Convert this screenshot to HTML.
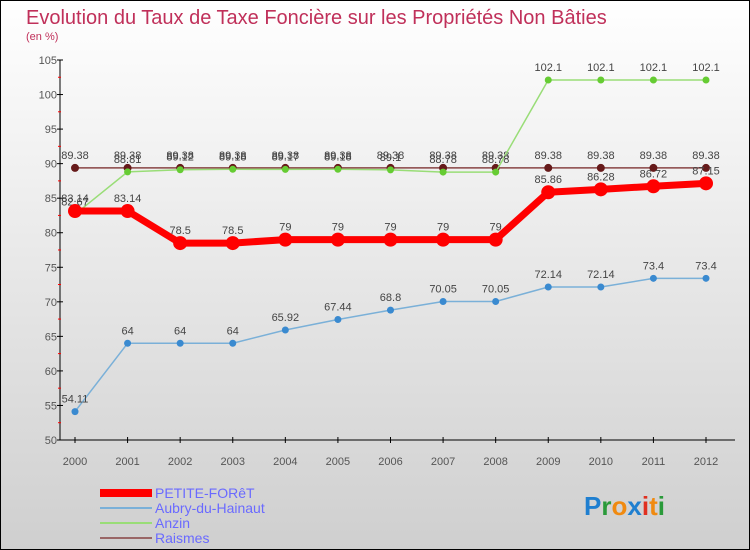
<!DOCTYPE html>
<html><head><meta charset="utf-8"><style>
body{margin:0}
#c{width:750px;height:550px;position:relative;overflow:hidden;font-family:"Liberation Sans",sans-serif;}
</style></head><body>
<div id="c">
<svg id="s" width="750" height="550" xmlns="http://www.w3.org/2000/svg">
<defs><linearGradient id="bg" x1="0" y1="0" x2="0" y2="1"><stop offset="0" stop-color="#ffffff"/><stop offset="1" stop-color="#cfcfcf"/></linearGradient></defs>
<rect x="0.5" y="0.5" width="749" height="549" fill="url(#bg)" stroke="#000"/>
<text x="26" y="24" font-size="20" fill="#c0305a">Evolution du Taux de Taxe Foncière sur les Propriétés Non Bâties</text>
<text x="26" y="40" font-size="11" fill="#c0305a">(en %)</text>
<g id="axes"></g><g id="series"></g>
<g>
<rect x="100" y="489" width="52" height="8" fill="#f00"/>
<text x="155" y="498" font-size="14" fill="#6a6aff">PETITE-FORêT</text>
<rect x="100" y="507" width="52" height="2" fill="#7ab0d8"/>
<text x="155" y="513" font-size="14" fill="#6a6aff">Aubry-du-Hainaut</text>
<rect x="100" y="522" width="52" height="2" fill="#99dd77"/>
<text x="155" y="528" font-size="14" fill="#6a6aff">Anzin</text>
<rect x="100" y="537" width="52" height="2" fill="#996666"/>
<text x="155" y="543" font-size="14" fill="#6a6aff">Raismes</text>
</g>
<text x="584" y="515" font-size="26" font-weight="bold"><tspan fill="#1f7fd0">P</tspan><tspan fill="#2a9a3a">r</tspan><tspan fill="#f08a10">o</tspan><tspan fill="#1f7fd0">x</tspan><tspan fill="#e03020">i</tspan><tspan fill="#f08a10">t</tspan><tspan fill="#2a9a3a">i</tspan></text>
</svg></div>
<script>
const years=[2000,2001,2002,2003,2004,2005,2006,2007,2008,2009,2010,2011,2012];
const yTicks=[50,55,60,65,70,75,80,85,90,95,100,105];
const petite=[83.14,83.14,78.5,78.5,79,79,79,79,79,85.86,86.28,86.72,87.15];
const aubry=[54.11,64,64,64,65.92,67.44,68.8,70.05,70.05,72.14,72.14,73.4,73.4];
const anzin=[82.67,88.81,89.12,89.18,89.17,89.18,89.1,88.78,88.78,102.1,102.1,102.1,102.1];
const raismes=[89.38,89.38,89.38,89.38,89.38,89.38,89.38,89.38,89.38,89.38,89.38,89.38,89.38];
const NS="http://www.w3.org/2000/svg";
function xS(i){return 75+i*(706-75)/(years.length-1);}
function yS(v){return 440-(v-50)*(380/55);}
function mk(t,a,p){const e=document.createElementNS(NS,t);for(const k in a)e.setAttribute(k,a[k]);p.appendChild(e);return e;}
const ax=document.getElementById('axes');
let yl=mk('line',{x1:60,y1:60,x2:60,y2:440,stroke:'#000'},ax);


let xl=mk('line',{x1:60,y1:440,x2:735,y2:440,stroke:'#000'},ax);


yTicks.forEach((v,i)=>{const y=yS(v);
mk('line',{x1:57,y1:y,x2:63,y2:y,stroke:'#000'},ax);
if(i<yTicks.length-1)mk('line',{x1:58,y1:y-17.3,x2:61,y2:y-17.3,stroke:'#f00'},ax);
const t=mk('text',{x:57,y:y+4,'font-size':11,fill:'#555','text-anchor':'end'},ax);t.textContent=v;

});
years.forEach((yr,i)=>{const x=xS(i);
mk('line',{x1:x,y1:437,x2:x,y2:443,stroke:'#000'},ax);
const t=mk('text',{x:x,y:465,'font-size':11,fill:'#555','text-anchor':'middle'},ax);t.textContent=yr;

});
const sg=document.getElementById('series');
function draw(name,data,color,w,r,dot){
const g=mk('g',{},sg);


mk('polyline',{points:data.map((v,i)=>xS(i)+','+yS(v)).join(' '),fill:'none',stroke:color,'stroke-width':w,'stroke-linejoin':'round'},g);
data.forEach((v,i)=>{const c=mk('circle',{cx:xS(i),cy:yS(v),r:r,fill:dot},g);


const t=mk('text',{x:xS(i),y:yS(v)-9,'font-size':11,fill:'#444','text-anchor':'middle'},g);t.textContent=v;

});}
draw('raismes',raismes,'#884444',1.5,4,'#661a1a');
draw('anzin',anzin,'#99dd77',1.5,3.5,'#66cc33');
draw('aubry',aubry,'#7ab0d8',1.5,3.5,'#3a8ad0');
draw('petite-foret',petite,'#f00',7,7,'#f00');
</script>
</body></html>
